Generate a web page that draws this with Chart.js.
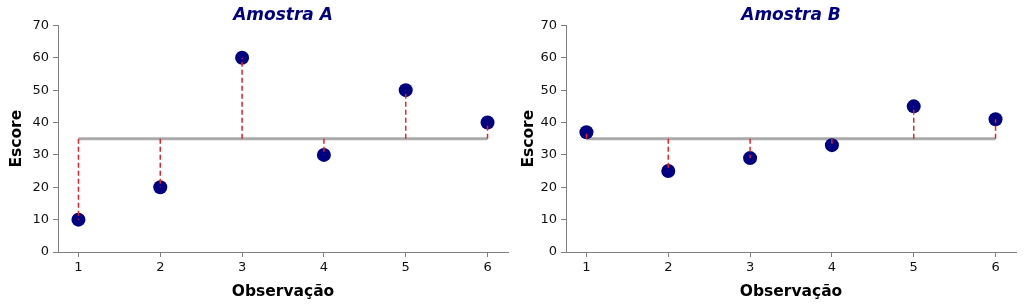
<!DOCTYPE html>
<html>
<head>
<meta charset="utf-8">
<script src="https://cdn.jsdelivr.net/npm/chart.js@4"></script>
<style>
  html, body { margin: 0; padding: 0; background: #fff; }
  #wrap { position: relative; width: 1024px; height: 307px; }
  .box { position: absolute; top: 0; height: 307px; }
</style>
</head>
<body>
<div id="wrap">
  <div class="box" style="left:0; width:520px"><canvas id="chartA"></canvas></div>
  <div class="box" style="left:512px; width:512px"><canvas id="chartB"></canvas></div>
</div>
<script>
// observations and scores
const observacoes = [1, 2, 3, 4, 5, 6];
const escoresA = [10, 20, 60, 30, 50, 40];
const escoresB = [37, 25, 29, 33, 45, 41];
const yTicks = [0, 10, 20, 30, 40, 50, 60, 70];

Chart.defaults.font.family = "'DejaVu Sans', sans-serif";
Chart.defaults.color = '#111';

function media(vals) {
    return vals.reduce((a, b) => a + b, 0) / vals.length;
}

function makeChart(id, titulo, valores, padLeft, yWidth, padRight) {
    const m = media(valores);
    const datasets = [];

    // residuals, dashed red, drawn on top
    observacoes.forEach((x, i) => {
        datasets.push({
            type: 'line',
            data: [{x: x, y: m}, {x: x, y: valores[i]}],
            borderColor: '#e8202a',
            borderWidth: 1.5,
            borderDash: [5, 3],
            pointRadius: 0,
            order: 0
        });
    });

    // the scores
    datasets.push({
        type: 'scatter',
        data: observacoes.map((x, i) => ({x: x, y: valores[i]})),
        backgroundColor: '#000080',
        borderColor: '#000080',
        borderWidth: 0,
        pointRadius: 7,
        order: 1
    });

    // mean line
    datasets.push({
        type: 'line',
        data: [{x: observacoes[0], y: m}, {x: observacoes[observacoes.length - 1], y: m}],
        borderColor: '#aaaaaa',
        borderWidth: 3,
        pointRadius: 0,
        order: 2
    });

    new Chart(document.getElementById(id), {
        type: 'scatter',
        data: { datasets: datasets },
        options: {
            responsive: true,
            maintainAspectRatio: false,
            animation: false,
            layout: { padding: { left: padLeft, right: padRight, top: 0, bottom: 0 } },
            plugins: {
                legend: { display: false },
                tooltip: { enabled: false },
                title: {
                    display: true,
                    text: titulo,
                    fullSize: false,
                    color: '#000080',
                    font: { size: 17, weight: 'bold', style: 'italic' },
                    padding: { top: 5, bottom: 0 }
                }
            },
            scales: {
                x: {
                    type: 'linear',
                    min: 0.75,
                    max: 6.25,
                    afterBuildTicks: s => { s.ticks = observacoes.map(v => ({value: v})); },
                    afterFit: s => { s.height = 55; },
                    ticks: { font: { size: 13 }, padding: 3 },
                    grid: { drawOnChartArea: false, tickLength: 5, color: '#808080' },
                    border: { color: '#808080', width: 1 },
                    title: {
                        display: true,
                        text: 'Observação',
                        color: '#000',
                        font: { size: 15.5, weight: 'bold' },
                        padding: { top: 0, bottom: 6 }
                    }
                },
                y: {
                    min: 0,
                    max: 70,
                    afterBuildTicks: s => { s.ticks = yTicks.map(v => ({value: v})); },
                    afterFit: s => { s.width = yWidth; },
                    ticks: { font: { size: 13 }, padding: 4 },
                    grid: { drawOnChartArea: false, tickLength: 5, color: '#808080' },
                    border: { color: '#808080', width: 1 },
                    title: {
                        display: true,
                        text: 'Escore',
                        color: '#000',
                        font: { size: 15.5, weight: 'bold' },
                        padding: { top: 8, bottom: 0 }
                    }
                }
            }
        }
    });
}

makeChart('chartA', 'Amostra A', escoresA, 0, 58, 12);
makeChart('chartB', 'Amostra B', escoresB, 0, 54, 8);
</script>
</body>
</html>
